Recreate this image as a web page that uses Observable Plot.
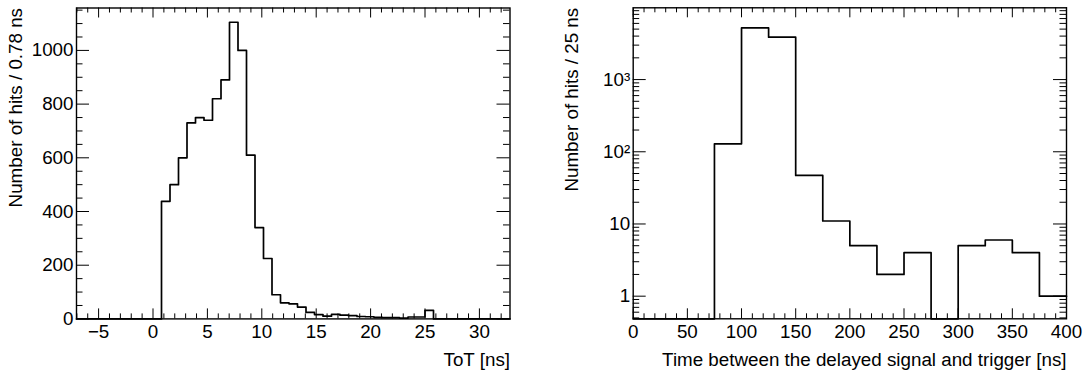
<!DOCTYPE html>
<html><head><meta charset="utf-8">
<script src="https://cdn.jsdelivr.net/npm/d3@7"></script>
<script src="https://cdn.jsdelivr.net/npm/@observablehq/plot@0.6"></script>
<style>
body{margin:0;background:#fff;}
#wrap{display:flex;width:1086px;height:376px;overflow:hidden;}
#wrap svg{display:block;}
</style></head><body><div id="wrap"></div>
<script>
// ---- Left panel: ToT histogram ----
const totBinLow = -7.03125;
const totBinWidth = 0.78125;
const totCounts = [
  0,0,0,0,0,0,0,0,0,0,
  438,500,600,730,750,740,820,890,1105,1000,
  610,340,225,90,60,56,44,24,16,10,
  17,14,12,9,8,6,5,5,3,7,
  7,32,
  0,0,0,0,0,0,0,0,0
];
const totXDomain = [-7.03125, 32.8125];
const totYDomain = [0, 1158];
const totXMajor = [-5, 0, 5, 10, 15, 20, 25, 30];
const totYMajor = [0, 200, 400, 600, 800, 1000];
const totXTitle = "ToT [ns]";
const totYTitle = "Number of hits / 0.78 ns";

// ---- Right panel: delay histogram (log y) ----
const delayBinLow = 0;
const delayBinWidth = 25;
const delayCounts = [0,0,0,129,5200,3870,47,11,5,2,4,0,5,6,4,1];
const delayXDomain = [0, 400];
const delayYDomain = [0.486, 9866];
const delayXMajor = [0, 50, 100, 150, 200, 250, 300, 350, 400];
const delayYMajor = [1, 10, 100, 1000];
const delayYLabels = ["1", "10", "10\u00B2", "10\u00B3"];
const delayXTitle = "Time between the delayed signal and trigger [ns]";
const delayYTitle = "Number of hits / 25 ns";

const FONT = "'Liberation Sans', Arial, Helvetica, sans-serif";
const FS = 18.8;

function panel(o) {
  const W = 543, H = 376;
  const m = o.margins;
  const innerW = W - m.left - m.right;
  const innerH = H - m.top - m.bottom;
  const pts = o.counts.map((c, k) => ({x: o.lo + k * o.bw, y: o.floor != null ? Math.max(c, o.floor) : c}));
  const last = o.counts.length;
  pts.push({x: o.lo + last * o.bw, y: pts[last - 1].y});
  const xt = 10, xtm = 5, yt = 13, ytm = 6.5;
  const stroke = "black";
  return Plot.plot({
    width: W, height: H,
    marginLeft: m.left, marginRight: m.right, marginTop: m.top, marginBottom: m.bottom,
    style: {fontFamily: FONT, fontSize: FS + "px", background: "white", color: "black"},
    x: {domain: o.xDomain, axis: null},
    y: {domain: o.yDomain, type: o.yType || "linear", axis: null},
    marks: [
      // x ticks bottom & top
      Plot.tickX(o.xMaj, {x: d => d, insetTop: innerH - xt, stroke}),
      Plot.tickX(o.xMin, {x: d => d, insetTop: innerH - xtm, stroke}),
      Plot.tickX(o.xMaj, {x: d => d, insetBottom: innerH - xt, stroke}),
      Plot.tickX(o.xMin, {x: d => d, insetBottom: innerH - xtm, stroke}),
      // y ticks left & right
      Plot.tickY(o.yMaj, {y: d => d, insetRight: innerW - yt, stroke}),
      Plot.tickY(o.yMin, {y: d => d, insetRight: innerW - ytm, stroke}),
      Plot.tickY(o.yMaj, {y: d => d, insetLeft: innerW - yt, stroke}),
      Plot.tickY(o.yMin, {y: d => d, insetLeft: innerW - ytm, stroke}),
      Plot.line(pts, {x: "x", y: "y", curve: "step-after", stroke, strokeWidth: 1.7}),
      Plot.frame({stroke, strokeWidth: 1.4}),
      Plot.axisX({ticks: o.xMaj, label: null, tickSize: 0, tickPadding: 6, fontSize: FS, tickFormat: d => d < 0 ? "\u2212" + Math.abs(d) : String(d)}),
      Plot.axisY({ticks: o.yMaj, label: null, tickSize: 0, tickPadding: 3, fontSize: FS,
        tickFormat: o.yLabels ? (d, i) => o.yLabels[o.yMaj.indexOf(d)] : d => String(d)}),
      Plot.text([o.xTitle], {frameAnchor: "bottom-right", text: d => d, textAnchor: "end", lineAnchor: "middle", dy: 40.8, fontSize: FS}),
      Plot.text([o.yTitle], {frameAnchor: "top-left", text: d => d, textAnchor: "end", lineAnchor: "middle", rotate: -90, dx: -61, dy: 0, fontSize: FS})
    ]
  });
}

const totXMinor = d3.range(-7, 33, 1).filter(d => d % 5 !== 0);
const totYMinor = d3.range(0, 1158, 50).filter(d => d % 200 !== 0);
const delayXMinor = d3.range(0, 401, 10).filter(d => d % 50 !== 0);
const delayYMinor = [];
for (const dec of [0.1, 1, 10, 100, 1000]) for (let k = 2; k <= 9; k++) {
  const v = dec * k; if (v >= delayYDomain[0] && v <= delayYDomain[1]) delayYMinor.push(v);
}

const wrap = document.getElementById("wrap");
wrap.appendChild(panel({
  lo: totBinLow, bw: totBinWidth, counts: totCounts,
  xDomain: totXDomain, yDomain: totYDomain,
  xMaj: totXMajor, xMin: totXMinor, yMaj: totYMajor, yMin: totYMinor,
  margins: {left: 76, right: 33.5, top: 7.5, bottom: 57.6},
  xTitle: totXTitle, yTitle: totYTitle
}));
wrap.appendChild(panel({
  lo: delayBinLow, bw: delayBinWidth, counts: delayCounts, floor: delayYDomain[0],
  xDomain: delayXDomain, yDomain: delayYDomain, yType: "log",
  xMaj: delayXMajor, xMin: delayXMinor, yMaj: delayYMajor, yMin: delayYMinor, yLabels: delayYLabels,
  margins: {left: 89.7, right: 20, top: 7.3, bottom: 57.7},
  xTitle: delayXTitle, yTitle: delayYTitle
}));
</script></body></html>
